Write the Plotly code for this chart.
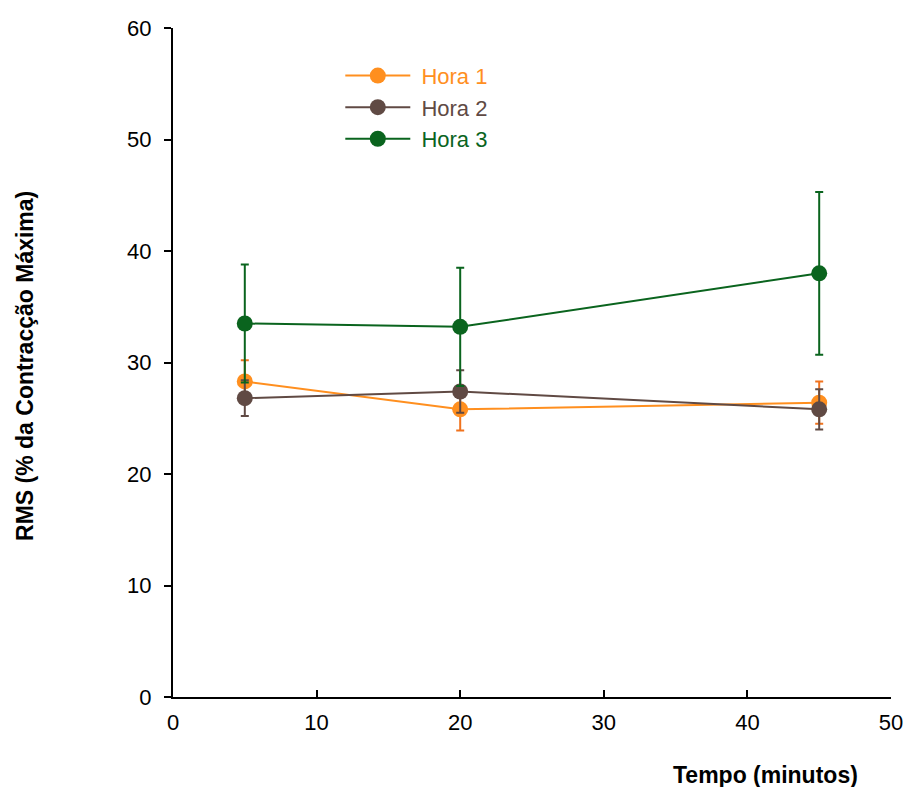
import plotly.graph_objects as go

# Tempo de medição (minutos)
tempo = [5, 20, 45]

# RMS médio e desvio padrão por hora
hora1 = [28.3, 25.8, 26.4]
hora1_dp = [1.9, 1.9, 1.9]
hora2 = [26.8, 27.4, 25.8]
hora2_dp = [1.6, 1.9, 1.8]
hora3 = [33.5, 33.2, 38.0]
hora3_dp = [5.3, 5.3, 7.3]

nomes = ["Hora 1", "Hora 2", "Hora 3"]
cores = ["#FF8F1F", "#604A44", "#0A641E"]
cores_erro = ["#F0731E", "#604A44", "#0A641E"]

fonte = "Liberation Sans, Arial, sans-serif"

fig = go.Figure()
for nome, y, dp, cor, cerr in zip(nomes, [hora1, hora2, hora3],
                                  [hora1_dp, hora2_dp, hora3_dp], cores, cores_erro):
    fig.add_trace(go.Scatter(
        x=tempo, y=y, mode="lines+markers",
        name=f'<span style="color:{cor}">\u00a0{nome}</span>',
        line=dict(color=cor, width=2),
        marker=dict(color=cor, size=16),
        error_y=dict(type="data", array=dp, visible=True,
                     color=cerr, thickness=2, width=4),
    ))

fig.update_layout(
    width=907, height=787,
    margin=dict(l=173, r=16, t=28, b=90),
    paper_bgcolor="white", plot_bgcolor="white",
    font=dict(family=fonte, size=22, color="black"),
    showlegend=True,
    legend=dict(x=0.233, y=0.96, xanchor="left", yanchor="top",
                bgcolor="rgba(0,0,0,0)", font=dict(size=22),
                tracegroupgap=0, itemwidth=65),
    xaxis=dict(range=[0, 50], dtick=10, showgrid=False, zeroline=False,
               showline=True, linecolor="black", linewidth=2,
               ticks="inside", ticklen=7, tickwidth=1.5, tickcolor="black",
               tickfont=dict(size=22), ticklabelstandoff=5, automargin=False),
    yaxis=dict(range=[0, 60], dtick=10, showgrid=False, zeroline=False,
               showline=True, linecolor="black", linewidth=2,
               ticks="outside", ticklen=7, tickwidth=1.5, tickcolor="black",
               tickfont=dict(size=22), ticklabelstandoff=8, automargin=False),
    annotations=[
        dict(text="<b>Tempo (minutos)</b>", xref="paper", yref="paper",
             x=0.825, y=-0.1166, xanchor="center", yanchor="middle",
             showarrow=False, font=dict(size=23)),
        dict(text="<b>RMS (% da Contracção Máxima)</b>", xref="paper", yref="paper",
             x=-0.206, y=0.495, xanchor="center", yanchor="middle", textangle=-90,
             showarrow=False, font=dict(size=23)),
    ],
)

fig.write_html("out.html")
